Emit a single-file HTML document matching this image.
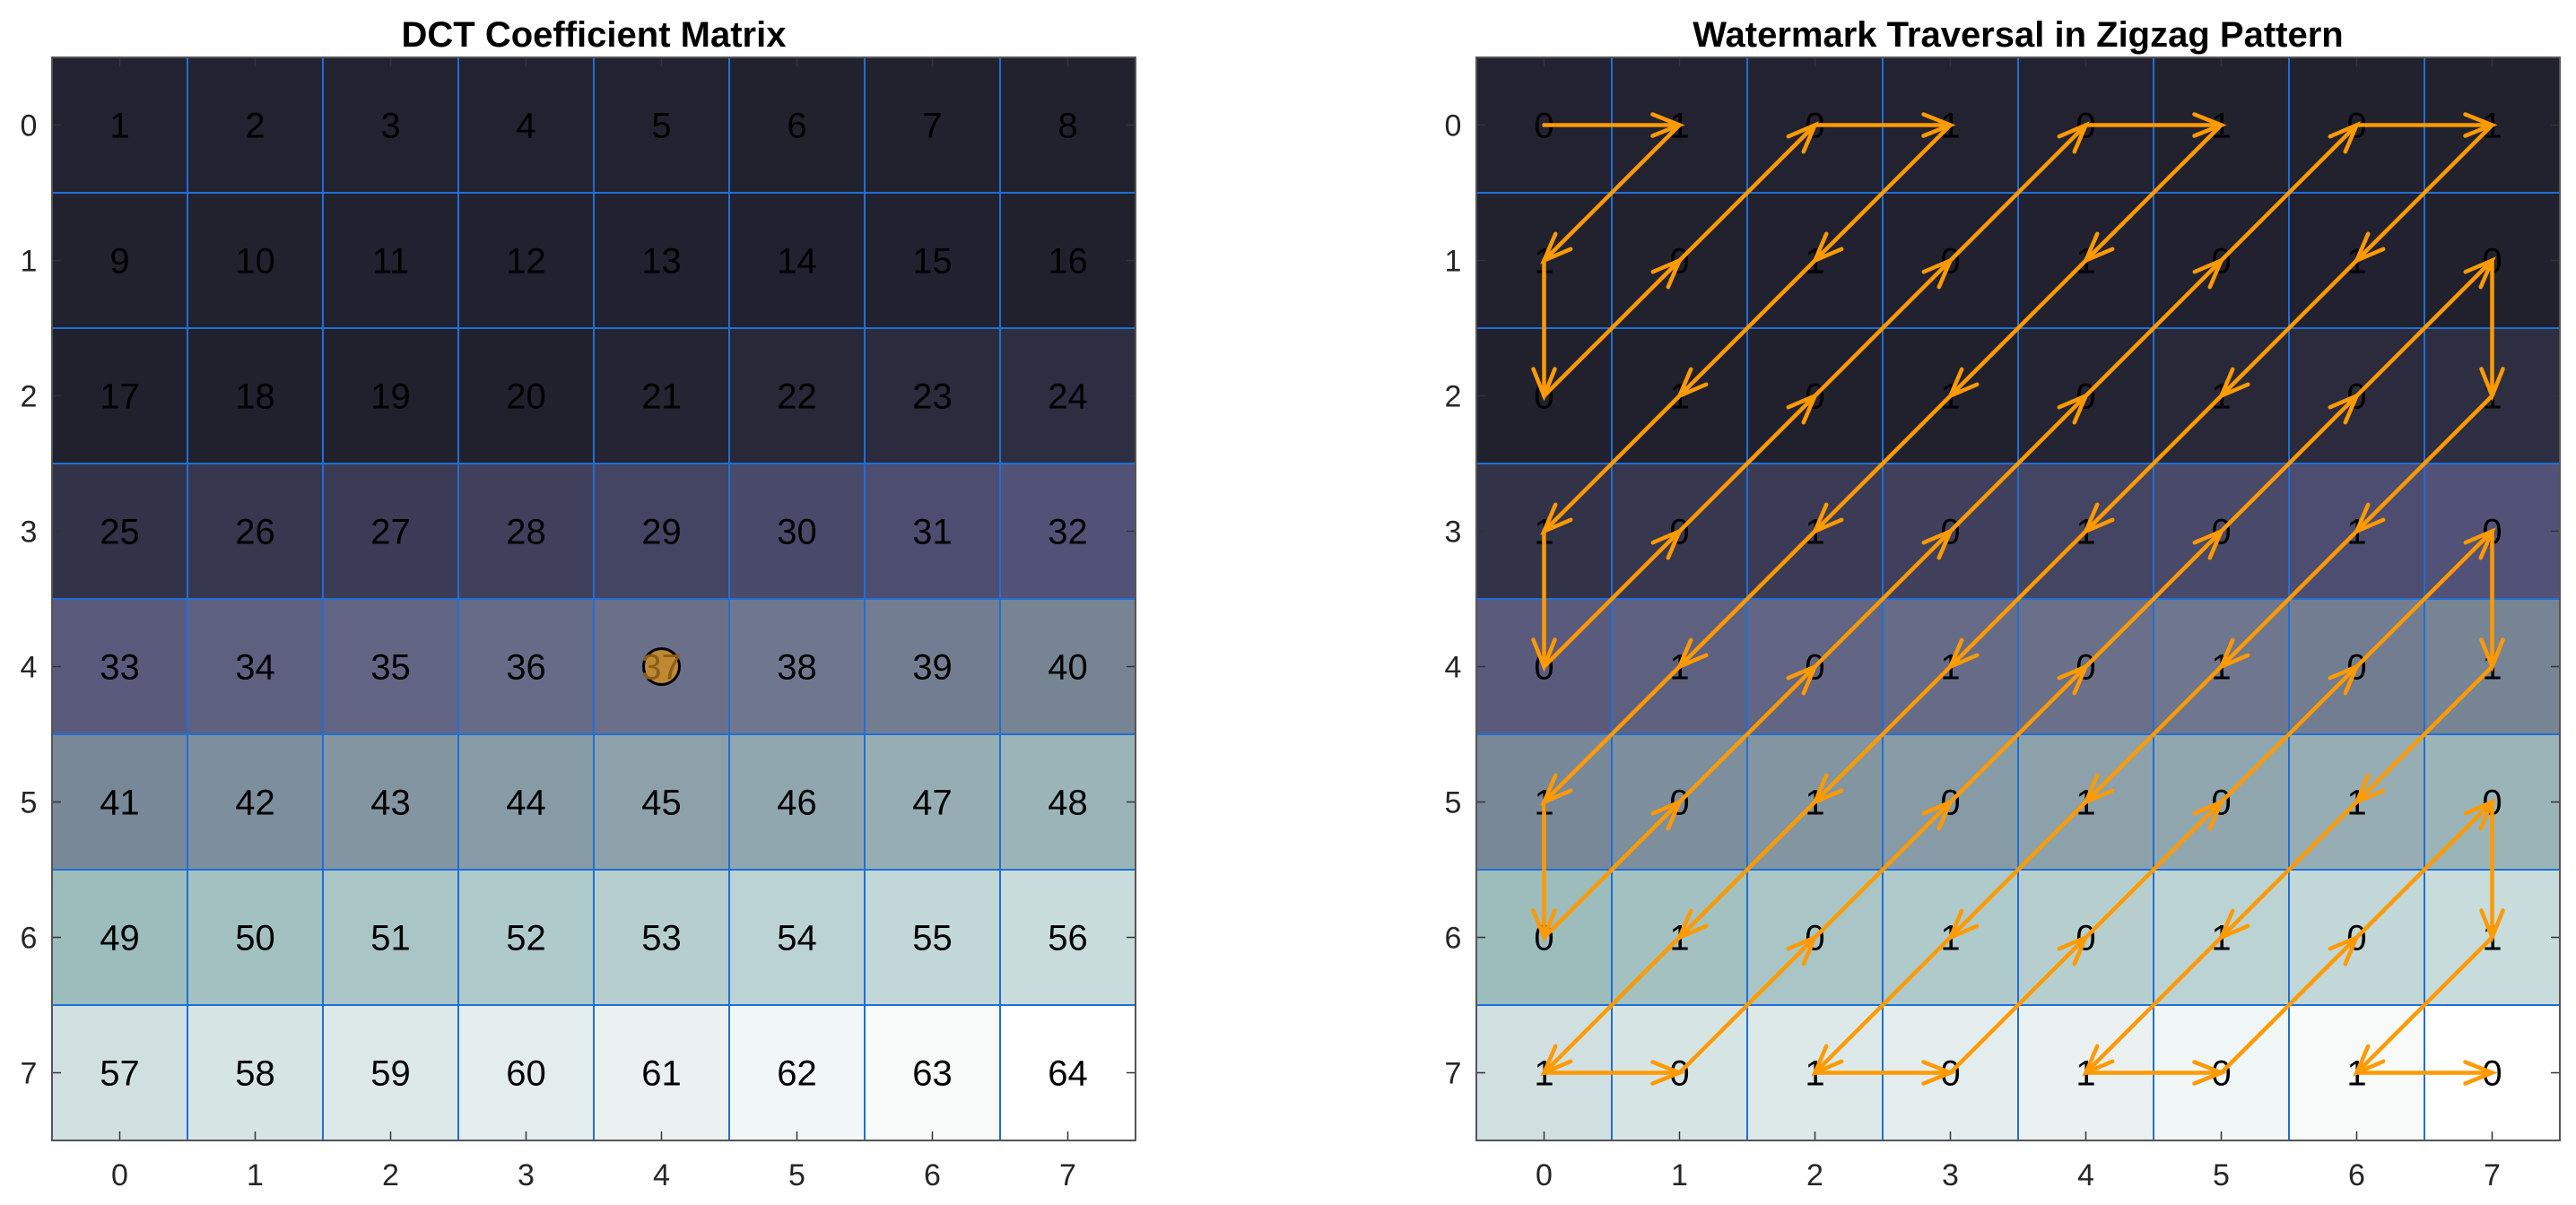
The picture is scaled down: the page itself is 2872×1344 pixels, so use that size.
<!DOCTYPE html>
<html><head><meta charset="utf-8">
<style>
html,body{margin:0;padding:0;background:#fff;}
svg{display:block;}
text{font-family:"Liberation Sans",Arial,sans-serif;}
</style></head>
<body>
<svg id="s" width="2872" height="1344" viewBox="0 0 2872 1344" xmlns="http://www.w3.org/2000/svg">
<rect width="2872" height="1344" fill="#fff"/>
<text x="662" y="52" font-size="40" font-weight="bold" text-anchor="middle">DCT Coefficient Matrix</text>
<text x="2250" y="52" font-size="40" font-weight="bold" text-anchor="middle">Watermark Traversal in Zigzag Pattern</text>
<g id="g"></g>
</svg>
<script>
(function(){
var NS="http://www.w3.org/2000/svg",g=document.getElementById('g');
function el(t,a,txt){var e=document.createElementNS(NS,t);for(var k in a)e.setAttribute(k,a[k]);if(txt!=null)e.textContent=txt;g.appendChild(e);return e;}
var anchors=[[1,[34,34,48]],[20,[33,33,46]],[24,[46,46,66]],[25,[50,50,72]],[32,[82,82,120]],[33,[90,90,124]],[37,[106,112,138]],[40,[118,132,148]],[41,[120,136,152]],[48,[155,180,184]],[49,[157,188,188]],[56,[200,220,220]],[57,[208,224,224]],[63,[248,250,250]],[64,[255,255,255]]];
function col(v){for(var i=0;i<anchors.length-1;i++){var a=anchors[i],b=anchors[i+1];if(v>=a[0]&&v<=b[0]){var t=(v-a[0])/(b[0]-a[0]);return 'rgb('+a[1].map(function(c,k){return Math.round(c+(b[1][k]-c)*t)}).join(',')+')';}}return '#fff';}
var C=151,T=64;
function axes(L,right){
  for(var r=0;r<8;r++)for(var c=0;c<8;c++){var v=r*8+c+1;el('rect',{x:L+c*C,y:T+r*C,width:C+0.5,height:C+0.5,fill:col(v)});}
  for(var i=1;i<8;i++){el('line',{x1:L+i*C,y1:T,x2:L+i*C,y2:T+8*C,stroke:'#1f6fd6','stroke-width':2});el('line',{x1:L,y1:T+i*C,x2:L+8*C,y2:T+i*C,stroke:'#1f6fd6','stroke-width':2});}
  for(var i=0;i<8;i++){var p=L+C/2+i*C,q=T+C/2+i*C;
    el('line',{x1:p,y1:T+8*C,x2:p,y2:T+8*C-10,stroke:'#333','stroke-width':1.5});
    el('line',{x1:p,y1:T,x2:p,y2:T+10,stroke:'#333','stroke-width':1.5});
    el('line',{x1:L,y1:q,x2:L+10,y2:q,stroke:'#333','stroke-width':1.5});
    el('line',{x1:L+8*C,y1:q,x2:L+8*C-10,y2:q,stroke:'#333','stroke-width':1.5});
    el('text',{x:p,y:1322,'font-size':34,'text-anchor':'middle',fill:'#262626'},String(i));
    el('text',{x:L-26,y:q+12,'font-size':34,'text-anchor':'middle',fill:'#262626'},String(i));}
  el('rect',{x:L,y:T,width:8*C,height:8*C,fill:'none',stroke:'#555','stroke-width':2});
  if(right){}
}
axes(58,false);axes(1646,true);
// left numbers
for(var r=0;r<8;r++)for(var c=0;c<8;c++){var v=r*8+c+1,x=58+C/2+c*C,y=T+C/2+r*C;
  if(v==37){el('circle',{cx:x,cy:y,r:20,fill:'#bd8935',stroke:'#000','stroke-width':3});el('text',{x:x,y:y+14,'font-size':40,'text-anchor':'middle',fill:'#8a5c18'},'37');}
  else el('text',{x:x,y:y+14,'font-size':40,'text-anchor':'middle',fill:'#000'},String(v));}
// right bits
for(var r=0;r<8;r++)for(var c=0;c<8;c++){var x=1646+C/2+c*C,y=T+C/2+r*C;el('text',{x:x,y:y+14,'font-size':40,'text-anchor':'middle',fill:'#000'},String((r+c)%2));}
// zigzag
var pts=[];for(var s=0;s<15;s++){var cells=[];for(var r=0;r<8;r++){var c=s-r;if(c>=0&&c<8)cells.push([r,c]);}if(s%2==0)cells.reverse();pts=pts.concat(cells);}
var O='#ff9a00';
for(var i=0;i<pts.length-1;i++){var a=pts[i],b=pts[i+1];
  var x1=1646+C/2+a[1]*C,y1=T+C/2+a[0]*C,x2=1646+C/2+b[1]*C,y2=T+C/2+b[0]*C;
  el('line',{x1:x1,y1:y1,x2:x2,y2:y2,stroke:O,'stroke-width':4.5,'stroke-linecap':'round'});
  var dx=x2-x1,dy=y2-y1,d=Math.sqrt(dx*dx+dy*dy),ux=dx/d,uy=dy/d,L=30,W=12;
  var bx=x2-ux*L,by=y2-uy*L;
  el('polyline',{points:(bx-uy*W)+','+(by+ux*W)+' '+x2+','+y2+' '+(bx+uy*W)+','+(by-ux*W),fill:'none',stroke:O,'stroke-width':4.5,'stroke-linecap':'round','stroke-linejoin':'miter'});
}
})();
</script>
</body></html>
